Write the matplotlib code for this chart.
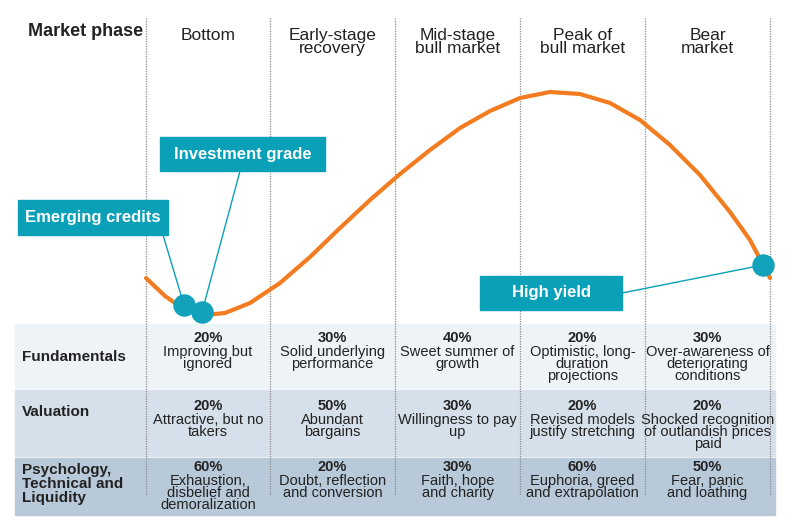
import matplotlib
matplotlib.use("Agg")
import matplotlib.pyplot as plt
from matplotlib.patches import Rectangle

plt.rcParams['font.family'] = ['Liberation Sans Narrow', 'Liberation Sans', 'DejaVu Sans']

phases = ["Bottom", "Early-stage\nrecovery", "Mid-stage\nbull market", "Peak of\nbull market", "Bear\nmarket"]
row_labels = ["Fundamentals", "Valuation", "Psychology,\nTechnical and\nLiquidity"]
fund_pct = [20, 30, 40, 20, 30]
fund_txt = ["Improving but\nignored", "Solid underlying\nperformance", "Sweet summer of\ngrowth",
            "Optimistic, long-\nduration\nprojections", "Over-awareness of\ndeteriorating\nconditions"]
val_pct = [20, 50, 30, 20, 20]
val_txt = ["Attractive, but no\ntakers", "Abundant\nbargains", "Willingness to pay\nup",
           "Revised models\njustify stretching", "Shocked recognition\nof outlandish prices\npaid"]
psy_pct = [60, 20, 30, 60, 50]
psy_txt = ["Exhaustion,\ndisbelief and\ndemoralization", "Doubt, reflection\nand conversion",
           "Faith, hope\nand charity", "Euphoria, greed\nand extrapolation", "Fear, panic\nand loathing"]

# market cycle curve (pixel coordinates)
curve_x = [146, 165, 185, 205, 225, 250, 280, 310, 340, 370, 400, 430, 460, 490, 520, 550, 580, 610, 640, 670, 700, 730, 750, 770]
curve_y = [278, 296, 310, 315, 313, 303, 283, 257, 228, 200, 174, 150, 128, 111, 98, 92, 94, 103, 120, 145, 175, 212, 240, 278]
dot_labels = ["Emerging credits", "Investment grade", "High yield"]
dot_x = [184, 202, 763]
dot_y = [305, 312, 265]

fig = plt.figure(figsize=(8, 5.23), dpi=100)
ax = fig.add_axes([0, 0, 1, 1])
ax.set_xlim(0, 800); ax.set_ylim(523, 0); ax.axis('off')

col_edges = [146, 270, 395, 520, 645, 770]
rows = [(324, 388, '#eef3f8'), (390, 456, '#d6e0ea'), (458, 515, '#b8cad9')]
for (y0, y1, c) in rows:
    ax.add_patch(Rectangle((15, y0), 760, y1 - y0, color=c, zorder=0))

for xe in col_edges:
    ax.plot([xe, xe], [18, 495], color='#8a8a8a', lw=0.9, ls=(0, (1, 1)), zorder=1)

ax.text(28, 32, "Market phase", fontsize=13, fontweight='bold', va='center', color='#222222')
centers = [(col_edges[i] + col_edges[i + 1]) / 2 for i in range(5)]
for cx, p in zip(centers, phases):
    ax.text(cx, 42 if '\n' in p else 36, p, fontsize=12.5, ha='center', va='center',
            color='#222222', linespacing=0.9)

ax.plot(curve_x, curve_y, color='#f47c20', lw=3, zorder=3, solid_capstyle='round')

box_col = '#0aa0b8'
boxes = [(18, 200, 150, 35), (160, 137, 165, 34), (480, 276, 142, 34)]
anchors = [(163, 235), (240, 171), (622, 293)]
for (bx, by, bw, bh), (axx, ayy), lab, dx, dy in zip(boxes, anchors, dot_labels, dot_x, dot_y):
    ax.plot([axx, dx], [ayy, dy], color=box_col, lw=1, zorder=2)
    ax.add_patch(Rectangle((bx, by), bw, bh, color=box_col, zorder=4))
    ax.text(bx + bw / 2, by + bh / 2, lab, color='white', fontsize=12, fontweight='bold',
            ha='center', va='center', zorder=5)
ax.scatter(dot_x, dot_y, s=230, color='#12a2bb', zorder=6)

row_mid = [357, 412, 484]
for ym, lab in zip(row_mid, row_labels):
    ax.text(22, ym, lab, fontsize=11, fontweight='bold', va='center', ha='left',
            color='#222222', linespacing=1.0)

for pcts, txts, ytop in [(fund_pct, fund_txt, 331), (val_pct, val_txt, 399), (psy_pct, psy_txt, 460)]:
    for cx, p, t in zip(centers, pcts, txts):
        ax.text(cx, ytop, f"{p}%", fontsize=10.5, fontweight='bold', ha='center', va='top', color='#222222')
        ax.text(cx, ytop + 14, t, fontsize=10.5, ha='center', va='top', color='#222222', linespacing=0.8)

fig.savefig("out.png", dpi=100, facecolor='white')
